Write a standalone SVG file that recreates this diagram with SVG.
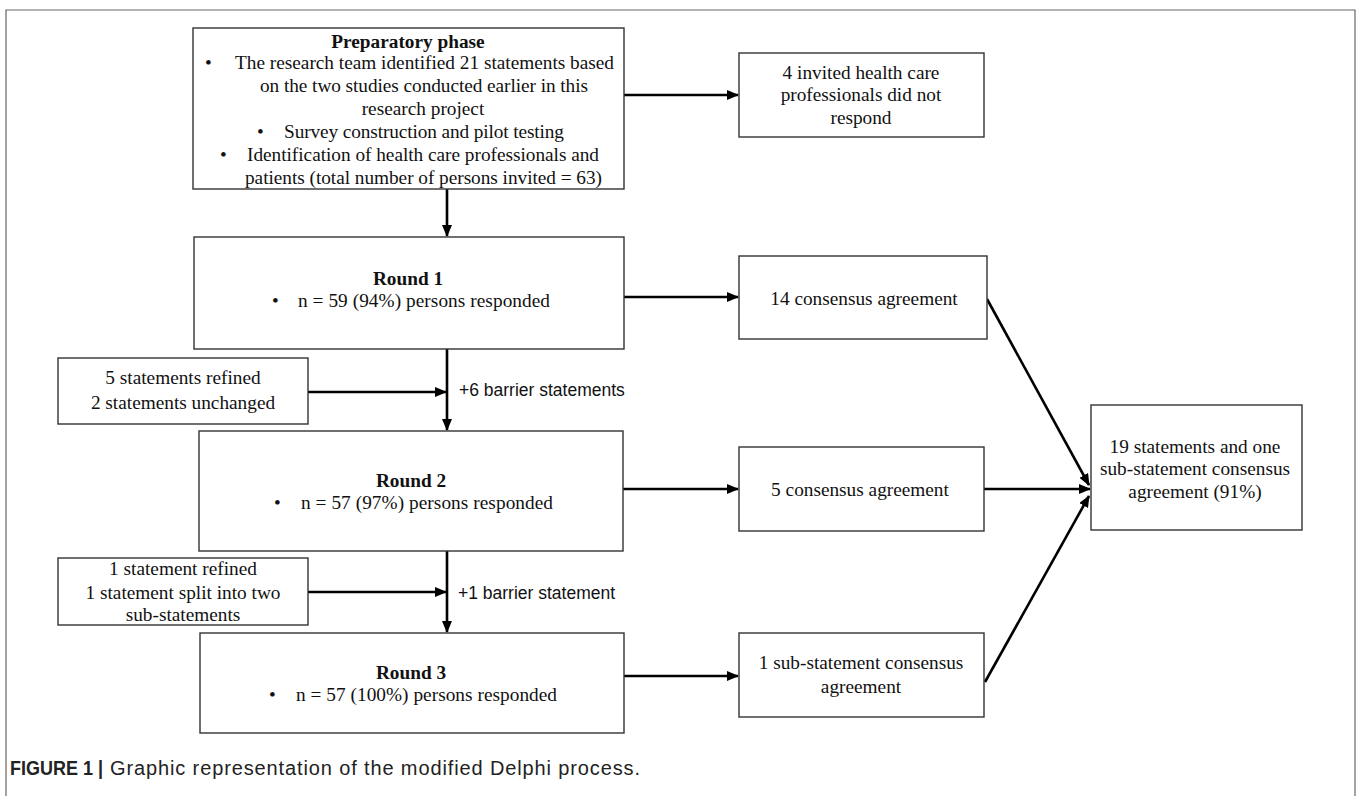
<svg xmlns="http://www.w3.org/2000/svg" width="1358" height="796" viewBox="0 0 1358 796">
<style>
.frame{fill:none;stroke:#666;stroke-width:1.2}
.box{fill:#fff;stroke:#333;stroke-width:1.4}
.t{font-family:"Liberation Serif","Times New Roman",serif;font-size:19.3px;fill:#111}
.b{font-weight:bold}
.m{text-anchor:middle}
.s{font-family:"Liberation Sans",Arial,sans-serif;font-size:17.5px;fill:#111}
.cap{font-family:"Liberation Sans",Arial,sans-serif;font-size:20px;fill:#222}
.c{fill:none;stroke:#000;stroke-width:2.6}
</style>
<defs>
<marker id="ah" markerUnits="userSpaceOnUse" markerWidth="12" markerHeight="10" refX="11" refY="5" orient="auto">
<path d="M0,0 L12,5 L0,10 Z" fill="#000"/>
</marker>
</defs>
<rect width="1358" height="796" fill="#fff"/>
<path class="frame" d="M6,796 V10 H1355 V796"/>

<g id="connectors">
<path class="c" d="M624,95 H738" marker-end="url(#ah)"/>
<path class="c" d="M447,189 V236" marker-end="url(#ah)"/>
<path class="c" d="M624,297 H738" marker-end="url(#ah)"/>
<path class="c" d="M447,349 V430" marker-end="url(#ah)"/>
<path class="c" d="M308,392 H446" marker-end="url(#ah)"/>
<path class="c" d="M623,489 H738" marker-end="url(#ah)"/>
<path class="c" d="M984,489 H1090" marker-end="url(#ah)"/>
<path class="c" d="M987,299 L1089,485" marker-end="url(#ah)"/>
<path class="c" d="M447,551 V632" marker-end="url(#ah)"/>
<path class="c" d="M308,592 H446" marker-end="url(#ah)"/>
<path class="c" d="M624,676 H738" marker-end="url(#ah)"/>
<path class="c" d="M985,682 L1089,496" marker-end="url(#ah)"/>
<text class="s" x="459" y="396">+6 barrier statements</text>
<text class="s" x="458" y="599">+1 barrier statement</text>
</g>

<g id="prep">
<rect class="box" x="193" y="28" width="431" height="161"/>
<text class="t b m" x="408" y="48">Preparatory phase</text>
<text class="t" x="205" y="69">•</text>
<text class="t" x="235" y="69" textLength="379" lengthAdjust="spacing">The research team identified  21 statements based</text>
<text class="t m" x="424" y="92" textLength="328" lengthAdjust="spacing">on the two studies conducted earlier  in this</text>
<text class="t m" x="423" y="115">research project</text>
<text class="t" x="257" y="138">•</text>
<text class="t" x="284" y="138" textLength="280" lengthAdjust="spacing">Survey construction and pilot testing</text>
<text class="t" x="220" y="161">•</text>
<text class="t" x="247" y="161" textLength="352" lengthAdjust="spacing">Identification  of health  care professionals and</text>
<text class="t" x="245" y="184" textLength="357" lengthAdjust="spacing">patients (total number of persons invited = 63)</text>
</g>

<g id="invited">
<rect class="box" x="739" y="53" width="245" height="84"/>
<text class="t m" x="861" y="79">4 invited  health  care</text>
<text class="t m" x="861" y="101">professionals did not</text>
<text class="t m" x="861" y="124">respond</text>
</g>

<g id="round1">
<rect class="box" x="194" y="237" width="430" height="112"/>
<text class="t b m" x="408" y="285">Round 1</text>
<text class="t" x="272" y="307">•</text>
<text class="t" x="298" y="307" textLength="252" lengthAdjust="spacing">n = 59 (94%) persons responded</text>
</g>

<g id="cons14">
<rect class="box" x="739" y="256" width="248" height="83"/>
<text class="t m" x="864" y="305">14 consensus agreement</text>
</g>

<g id="side1">
<rect class="box" x="58" y="358" width="250" height="66"/>
<text class="t m" x="183" y="384">5 statements refined</text>
<text class="t m" x="183" y="409">2 statements unchanged</text>
</g>

<g id="round2">
<rect class="box" x="199" y="431" width="424" height="120"/>
<text class="t b m" x="411" y="487">Round 2</text>
<text class="t" x="274" y="509">•</text>
<text class="t" x="301" y="509" textLength="252" lengthAdjust="spacing">n = 57 (97%) persons responded</text>
</g>

<g id="cons5">
<rect class="box" x="739" y="447" width="245" height="84"/>
<text class="t m" x="860" y="496">5 consensus agreement</text>
</g>

<g id="final">
<rect class="box" x="1091" y="405" width="211" height="125"/>
<text class="t m" x="1195" y="453">19 statements and one</text>
<text class="t m" x="1195" y="475">sub-statement consensus</text>
<text class="t m" x="1195" y="498">agreement (91%)</text>
</g>

<g id="side2">
<rect class="box" x="58" y="558" width="250" height="67"/>
<text class="t m" x="183" y="575">1 statement refined</text>
<text class="t m" x="183" y="599">1 statement split into two</text>
<text class="t m" x="183" y="621">sub-statements</text>
</g>

<g id="round3">
<rect class="box" x="200" y="633" width="424" height="100"/>
<text class="t b m" x="411" y="679">Round 3</text>
<text class="t" x="269" y="701">•</text>
<text class="t" x="296" y="701" textLength="261" lengthAdjust="spacing">n = 57 (100%) persons responded</text>
</g>

<g id="sub1">
<rect class="box" x="739" y="633" width="245" height="84"/>
<text class="t m" x="861" y="669">1 sub-statement consensus</text>
<text class="t m" x="861" y="693">agreement</text>
</g>

<g id="caption">
<text class="cap b" x="10" y="775" textLength="93" lengthAdjust="spacingAndGlyphs">FIGURE 1 |</text>
<text class="cap" x="110" y="775" textLength="530" lengthAdjust="spacing">Graphic representation of the modified Delphi process.</text>
</g>
</svg>
